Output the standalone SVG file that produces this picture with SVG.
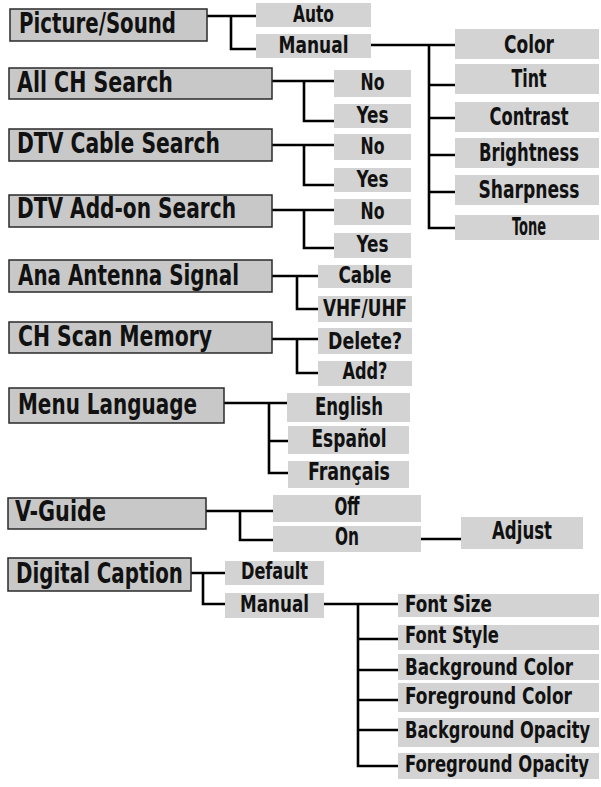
<svg xmlns="http://www.w3.org/2000/svg" width="601" height="787" viewBox="0 0 601 787">
<style>
.m rect{fill:#c8c8c8;stroke:#2a2a2a;stroke-width:1.5}
.s rect{fill:#d3d3d3}
text{font-family:"Liberation Sans Narrow","DejaVu Sans Condensed","Liberation Sans",sans-serif;font-weight:bold;fill:#111}
.m text{font-size:28px}
.s text{font-size:23px;text-anchor:middle}
.s .l{text-anchor:start}
.s .b{font-size:25px}
#connectors path{fill:none;stroke:#000;stroke-width:2.6}
</style>
<rect width="601" height="787" fill="#fff"/>
<g id="connectors">
<path d="M207,16H256M231,16V49H256"/>
<path d="M371,45H455M429,45V228H455M429,85H455M429,118H455M429,155H455M429,192H455"/>
<path d="M272,81H334M304,81V121H334"/>
<path d="M272,145H334M304,145V185H334"/>
<path d="M272,210H334M304,210V248H334"/>
<path d="M272,276H318M297,276V309H318"/>
<path d="M272,339H318M297,339V373H318"/>
<path d="M224,403H287M269,403V473H288M269,441H288"/>
<path d="M206,511H273M240,511V540H273"/>
<path d="M421,539H461"/>
<path d="M191,573H225M203,573V604H225"/>
<path d="M324,604H398M358,604V766H398M358,639H398M358,670H398M358,700H398M358,730H398"/>
</g>
<g id="n-picture-sound" class="m"><rect x="10" y="9" width="197" height="32"/><text x="19" y="33" textLength="157" lengthAdjust="spacingAndGlyphs">Picture/Sound</text></g>
<g id="n-all-ch-search" class="m"><rect x="9" y="68" width="263" height="31"/><text x="17" y="92" textLength="156" lengthAdjust="spacingAndGlyphs">All CH Search</text></g>
<g id="n-dtv-cable-search" class="m"><rect x="9" y="129" width="263" height="32"/><text x="17" y="153" textLength="203" lengthAdjust="spacingAndGlyphs">DTV Cable Search</text></g>
<g id="n-dtv-addon-search" class="m"><rect x="9" y="195" width="263" height="32"/><text x="17" y="218" textLength="219" lengthAdjust="spacingAndGlyphs">DTV Add-on Search</text></g>
<g id="n-ana-antenna-signal" class="m"><rect x="9" y="260" width="263" height="32"/><text x="18" y="285" textLength="221" lengthAdjust="spacingAndGlyphs">Ana Antenna Signal</text></g>
<g id="n-ch-scan-memory" class="m"><rect x="9" y="322" width="263" height="31"/><text x="18" y="346" textLength="194" lengthAdjust="spacingAndGlyphs">CH Scan Memory</text></g>
<g id="n-menu-language" class="m"><rect x="9" y="388" width="215" height="35"/><text x="18" y="414" textLength="179" lengthAdjust="spacingAndGlyphs">Menu Language</text></g>
<g id="n-v-guide" class="m"><rect x="8" y="498" width="198" height="31"/><text x="15" y="521" textLength="91" lengthAdjust="spacingAndGlyphs">V-Guide</text></g>
<g id="n-digital-caption" class="m"><rect x="8" y="558" width="183" height="33"/><text x="16" y="583" textLength="167" lengthAdjust="spacingAndGlyphs">Digital Caption</text></g>

<g id="n-ps-auto" class="s"><rect x="256" y="3" width="115" height="24"/><text x="313.5" y="22" textLength="41" lengthAdjust="spacingAndGlyphs">Auto</text></g>
<g id="n-ps-manual" class="s"><rect x="256" y="34" width="115" height="24"/><text x="313.5" y="53" textLength="70" lengthAdjust="spacingAndGlyphs">Manual</text></g>
<g id="n-color" class="s"><rect x="455" y="29" width="144" height="30"/><text class="b" x="529" y="53" textLength="50" lengthAdjust="spacingAndGlyphs">Color</text></g>
<g id="n-tint" class="s"><rect x="455" y="64" width="144" height="30"/><text class="b" x="529" y="87" textLength="35" lengthAdjust="spacingAndGlyphs">Tint</text></g>
<g id="n-contrast" class="s"><rect x="455" y="102" width="144" height="30"/><text class="b" x="529" y="125" textLength="79" lengthAdjust="spacingAndGlyphs">Contrast</text></g>
<g id="n-brightness" class="s"><rect x="455" y="138" width="144" height="30"/><text class="b" x="529" y="161" textLength="100" lengthAdjust="spacingAndGlyphs">Brightness</text></g>
<g id="n-sharpness" class="s"><rect x="455" y="175" width="144" height="30"/><text class="b" x="529" y="198" textLength="101" lengthAdjust="spacingAndGlyphs">Sharpness</text></g>
<g id="n-tone" class="s"><rect x="455" y="215" width="144" height="25"/><text class="b" x="529" y="235" textLength="34" lengthAdjust="spacingAndGlyphs">Tone</text></g>

<g id="n-allch-no" class="s"><rect x="334" y="70" width="77" height="27"/><text x="372.5" y="90" textLength="24" lengthAdjust="spacingAndGlyphs">No</text></g>
<g id="n-allch-yes" class="s"><rect x="334" y="104" width="77" height="24"/><text x="372.5" y="123" textLength="32" lengthAdjust="spacingAndGlyphs">Yes</text></g>
<g id="n-dtvc-no" class="s"><rect x="334" y="134" width="77" height="26"/><text x="372.5" y="154" textLength="24" lengthAdjust="spacingAndGlyphs">No</text></g>
<g id="n-dtvc-yes" class="s"><rect x="334" y="168" width="77" height="24"/><text x="372.5" y="187" textLength="32" lengthAdjust="spacingAndGlyphs">Yes</text></g>
<g id="n-dtva-no" class="s"><rect x="334" y="199" width="77" height="26"/><text x="372.5" y="219" textLength="24" lengthAdjust="spacingAndGlyphs">No</text></g>
<g id="n-dtva-yes" class="s"><rect x="334" y="233" width="77" height="25"/><text x="372.5" y="252" textLength="32" lengthAdjust="spacingAndGlyphs">Yes</text></g>

<g id="n-cable" class="s"><rect x="318" y="265" width="94" height="23"/><text x="365" y="283" textLength="53" lengthAdjust="spacingAndGlyphs">Cable</text></g>
<g id="n-vhf-uhf" class="s"><rect x="318" y="296" width="94" height="26"/><text x="365" y="316" textLength="84" lengthAdjust="spacingAndGlyphs">VHF/UHF</text></g>
<g id="n-delete" class="s"><rect x="318" y="328" width="94" height="26"/><text x="365" y="349" textLength="74" lengthAdjust="spacingAndGlyphs">Delete?</text></g>
<g id="n-add" class="s"><rect x="318" y="361" width="94" height="25"/><text x="365" y="379" textLength="45" lengthAdjust="spacingAndGlyphs">Add?</text></g>

<g id="n-english" class="s"><rect x="287" y="393" width="123" height="29"/><text class="b" x="349" y="415" textLength="68" lengthAdjust="spacingAndGlyphs">English</text></g>
<g id="n-espanol" class="s"><rect x="288" y="426" width="121" height="28"/><text class="b" x="349" y="447" textLength="75" lengthAdjust="spacingAndGlyphs">Español</text></g>
<g id="n-francais" class="s"><rect x="288" y="461" width="121" height="27"/><text class="b" x="349" y="480" textLength="82" lengthAdjust="spacingAndGlyphs">Français</text></g>

<g id="n-off" class="s"><rect x="273" y="495" width="148" height="27"/><text class="b" x="347" y="515" textLength="25" lengthAdjust="spacingAndGlyphs">Off</text></g>
<g id="n-on" class="s"><rect x="273" y="526" width="148" height="26"/><text class="b" x="347" y="545" textLength="24" lengthAdjust="spacingAndGlyphs">On</text></g>
<g id="n-adjust" class="s"><rect x="461" y="517" width="122" height="32"/><text class="b" x="522" y="539" textLength="60" lengthAdjust="spacingAndGlyphs">Adjust</text></g>

<g id="n-default" class="s"><rect x="225" y="561" width="99" height="24"/><text x="274.5" y="579" textLength="67" lengthAdjust="spacingAndGlyphs">Default</text></g>
<g id="n-dc-manual" class="s"><rect x="225" y="593" width="99" height="25"/><text x="274.5" y="612" textLength="69" lengthAdjust="spacingAndGlyphs">Manual</text></g>

<g id="n-font-size" class="s"><rect x="398" y="594" width="201" height="23"/><text class="l" x="405" y="612" textLength="87" lengthAdjust="spacingAndGlyphs">Font Size</text></g>
<g id="n-font-style" class="s"><rect x="398" y="625" width="201" height="25"/><text class="l" x="405" y="643" textLength="94" lengthAdjust="spacingAndGlyphs">Font Style</text></g>
<g id="n-bg-color" class="s"><rect x="398" y="654" width="201" height="26"/><text class="l" x="405" y="675" textLength="168" lengthAdjust="spacingAndGlyphs">Background Color</text></g>
<g id="n-fg-color" class="s"><rect x="398" y="683" width="201" height="29"/><text class="l" x="405" y="704" textLength="167" lengthAdjust="spacingAndGlyphs">Foreground Color</text></g>
<g id="n-bg-opacity" class="s"><rect x="398" y="718" width="201" height="29"/><text class="l" x="405" y="738" textLength="185" lengthAdjust="spacingAndGlyphs">Background Opacity</text></g>
<g id="n-fg-opacity" class="s"><rect x="398" y="753" width="201" height="26"/><text class="l" x="405" y="772" textLength="184" lengthAdjust="spacingAndGlyphs">Foreground Opacity</text></g>
</svg>
